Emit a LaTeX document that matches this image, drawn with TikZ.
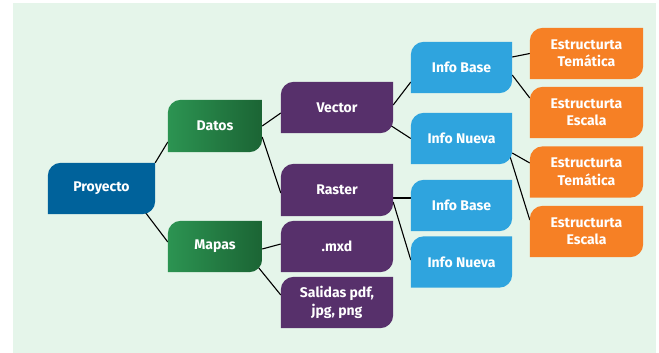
\documentclass[tikz,border=0pt]{standalone}
\usepackage{fontspec}
\setmainfont{Fira Sans}
\pgfdeclarelayer{back}
\pgfdeclarelayer{lines}
\pgfdeclarelayer{shapes}
\pgfsetlayers{back,lines,shapes,main}
\definecolor{bgc}{HTML}{E5F5EA}
\definecolor{blueP}{HTML}{00629B}
\definecolor{greenL}{HTML}{2C9452}
\definecolor{greenD}{HTML}{1B6434}
\definecolor{purp}{HTML}{57306B}
\definecolor{infob}{HTML}{2FA4DE}
\definecolor{orng}{HTML}{F68025}
\tikzset{
  box/.style={rectangle, inner sep=0pt, align=center, text=white,
    font=\fontsize{14}{17.5}\selectfont\bfseries},
  conn/.style={draw=black, line width=1.1pt},
  fillblue/.style={fill=blueP},
  fillgreen/.style={left color=greenL, right color=greenD},
  fillpurp/.style={fill=purp},
  fillinfo/.style={fill=infob},
  fillorng/.style={fill=orng},
}
\newcommand\leafnode[7]{%
  \node[box, minimum width=#4pt, minimum height=#5pt] (#1) at (#2,#3) {#7};
  \begin{pgfonlayer}{shapes}
  \path[#6] (#1.south west) -- ([yshift=-13pt]#1.north west)
    arc[start angle=180,end angle=90,radius=13pt] -- (#1.north east)
    -- ([yshift=13pt]#1.south east)
    arc[start angle=0,end angle=-90,radius=13pt] -- cycle;
  \end{pgfonlayer}}
\begin{document}
\begin{tikzpicture}[x=1pt,y=-1pt]
\useasboundingbox (0,0) rectangle (659,353);
\begin{pgfonlayer}{back}
\fill[white] (0,0) rectangle (659,353);
\fill[bgc] (13,3) rectangle (656,353);
\end{pgfonlayer}
\leafnode{P}{101.5}{188.5}{107}{51}{fillblue}{Proyecto}
\leafnode{D}{215}{126}{94}{52}{fillgreen}{Datos}
\leafnode{M}{215}{246.5}{94}{51}{fillgreen}{Mapas}
\leafnode{V}{337}{107.5}{112}{51}{fillpurp}{Vector}
\leafnode{R}{337}{190}{112}{52}{fillpurp}{Raster}
\leafnode{X}{337}{246.5}{112}{51}{fillpurp}{.mxd}
\leafnode{S}{337}{302.5}{112}{51}{fillpurp}{Salidas pdf,\\jpg, png}
\leafnode{IBa}{461.5}{67.5}{101}{51}{fillinfo}{Info Base}
\leafnode{INa}{461.5}{138.5}{101}{51}{fillinfo}{Info Nueva}
\leafnode{IBb}{461.5}{205.5}{101}{51}{fillinfo}{Info Base}
\leafnode{INb}{461.5}{262}{101}{51}{fillinfo}{Info Nueva}
\leafnode{ETa}{586.5}{53.5}{113}{51}{fillorng}{Estructurta\\Temática}
\leafnode{EEa}{586.5}{112.5}{113}{51}{fillorng}{Estructurta\\Escala}
\leafnode{ETb}{586.5}{172}{113}{51}{fillorng}{Estructurta\\Temática}
\leafnode{EEb}{586.5}{231.5}{113}{51}{fillorng}{Estructurta\\Escala}
\begin{pgfonlayer}{lines}
\draw[conn] (P.north east) -- ([yshift=-16pt]D.west);
\draw[conn] ([xshift=-10pt,yshift=2pt]P.south east) -- ([yshift=4.5pt]M.west);
\draw[conn] (D.east) -- ([yshift=-5.5pt]V.west);
\draw[conn] ([yshift=-11pt]D.east) -- ([yshift=-3pt]R.west);
\draw[conn] ([yshift=-2.5pt]M.east) -- ([yshift=2.5pt]X.west);
\draw[conn] ([xshift=-4pt,yshift=5pt]M.south east) -- ([yshift=7.5pt]S.west);
\draw[conn] ([yshift=2.5pt]V.east) -- ([yshift=-14.5pt]IBa.west);
\draw[conn] ([xshift=-3pt,yshift=8pt]V.south east) -- (INa.west);
\draw[conn] ([yshift=-8pt]R.east) -- ([yshift=7.5pt]IBb.west);
\draw[conn] ([yshift=-12pt]R.east) -- ([yshift=2pt]INb.west);
\draw[conn] ([yshift=10.5pt]IBa.east) -- (ETa.west);
\draw[conn] ([yshift=-7.5pt]IBa.east) -- ([yshift=14.5pt]EEa.west);
\draw[conn] ([yshift=-14.5pt]INa.east) -- ([yshift=9pt]ETb.west);
\draw[conn] ([xshift=-2pt,yshift=-18.5pt]INa.east) -- ([yshift=11.5pt]EEb.west);
\end{pgfonlayer}
\end{tikzpicture}
\end{document}
